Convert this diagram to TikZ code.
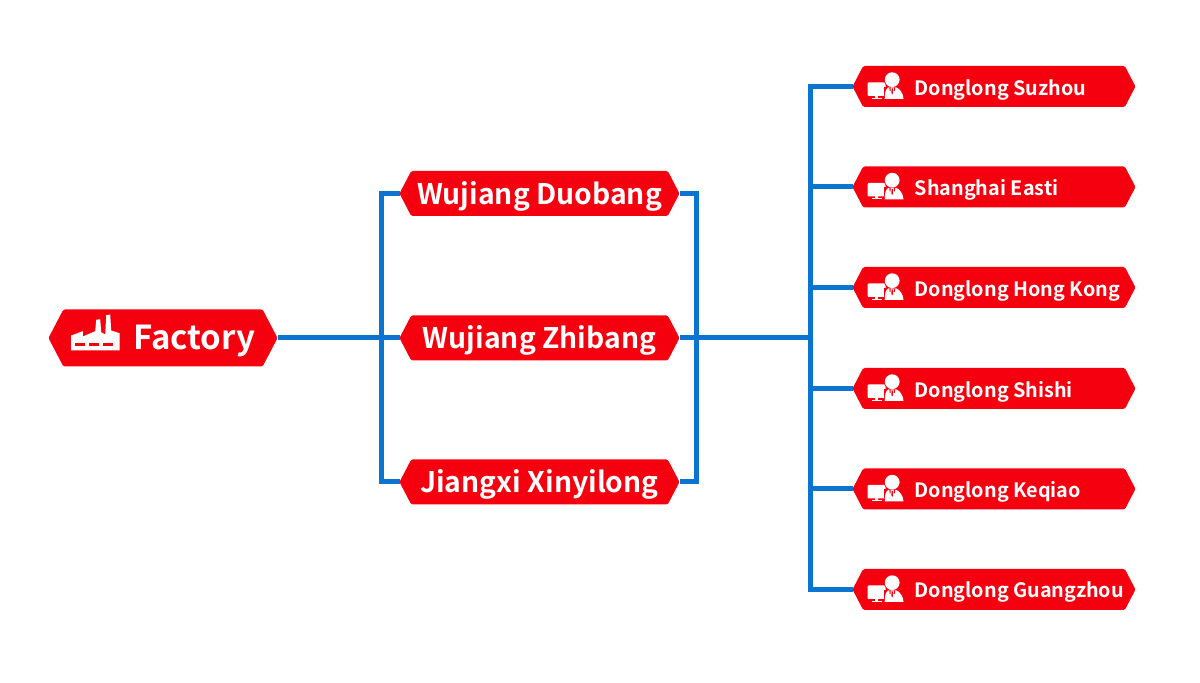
\documentclass[tikz,border=0pt]{standalone}
\usepackage{fontspec}
\setmainfont{Noto Sans CJK SC}[BoldFont={Noto Sans CJK SC Bold}]
\usetikzlibrary{shapes.symbols}
\definecolor{hexred}{HTML}{F5000F}
\definecolor{linkblue}{HTML}{0B74D0}
\tikzset{
  hexbox/.style={signal,signal to=west and east,signal pointer angle=125,fill=hexred,
    inner sep=0pt,outer sep=0pt,rounded corners=1.5pt},
  bigbox/.style={hexbox,minimum width=229pt,minimum height=57pt},
  midbox/.style={hexbox,minimum width=280pt,minimum height=45pt},
  smallbox/.style={hexbox,minimum width=283pt,minimum height=41pt},
  bigtext/.style={text=white,font=\fontsize{33}{33}\bfseries\selectfont,inner sep=0pt,anchor=base west},
  midtext/.style={text=white,font=\fontsize{28.3}{28.3}\bfseries\selectfont,inner sep=0pt,anchor=base},
  smalltext/.style={text=white,font=\fontsize{19.8}{19.8}\bfseries\selectfont,inner sep=0pt,anchor=base west},
  link/.style={line width=5pt,linkblue},
  factoryicon/.pic={
    \fill[white] (22.7,-12.5) -- (22.7,2.5) -- (34.3,6.8) -- (34.3,1.5) -- (46.7,6.8) -- (47.7,18.2)
      -- (51.7,18.8) -- (52.7,5.8) -- (56.7,3.5) -- (57.7,22.8) -- (61.7,23.5) -- (62.7,7.5)
      -- (71,4.8) -- (71,-12.5) -- cycle;
    \fill[hexred] (26,-8.2) rectangle (36,-4.8);
    \fill[hexred] (40.3,-8.2) rectangle (50.3,-4.8);
    \fill[hexred] (54.3,-8.2) rectangle (64.3,-4.8);
  },
  deskicon/.pic={
    % monitor
    \fill[white,rounded corners=1pt] (15,-9.5) rectangle (33,4);
    \fill[white] (22.5,-11.5) rectangle (25.5,-9.5);
    \fill[white] (19,-12.5) rectangle (29,-11.5);
    % person
    \fill[hexred] (31.5,-13) rectangle (51.5,-0.5);
    \fill[hexred] (39.7,6.8) circle (8.2);
    \fill[white] (39.7,6.8) circle (7.4);
    \fill[white] (32.2,-12.5) .. controls (32.2,-7) and (33,-2) .. (36,-0.8) -- (43.5,-0.8)
      .. controls (47.5,-2) and (50.7,-7) .. (51,-12.5) -- cycle;
    % tie
    \fill[hexred] (36.8,-0.8) -- (38,-0.8) -- (38.2,-4.5) -- (37.2,-4.5) -- cycle;
    \fill[hexred] (41.4,-0.8) -- (42.6,-0.8) -- (42.2,-4.5) -- (41.2,-4.5) -- cycle;
    \fill[hexred] (39.1,-2) -- (40.3,-2) -- (40.5,-6.5) -- (39.7,-8) -- (38.9,-6.5) -- cycle;
  }
}
\begin{document}
\begin{tikzpicture}[x=1pt,y=1pt]
    \useasboundingbox (0,0) rectangle (1200,683);
    % Boxes
    \node[bigbox] (factory) at (163,345) {};
    \node[midbox] (duobang) at (539.5,489.5) {};
    \node[midbox] (zhibang) at (539.5,345) {};
    \node[midbox] (xinyilong) at (539.5,201) {};
    \node[smallbox] (suzhou) at (994,596.5) {};
    \node[smallbox] (easti) at (994,496) {};
    \node[smallbox] (hongkong) at (994,395.5) {};
    \node[smallbox] (shishi) at (994,294.5) {};
    \node[smallbox] (keqiao) at (994,194) {};
    \node[smallbox] (guangzhou) at (994,93.5) {};
    % Bus corners
    \coordinate (leftbus) at (381.5,345);
    \coordinate (rightbus) at (696,345);
    \coordinate (mainbus) at (810,345);
    % Links
    \draw[link] (factory.east) -- (zhibang.west);
    \draw[link] (duobang.west) -| (leftbus) |- (xinyilong.west);
    \draw[link] (duobang.east) -| (rightbus) |- (xinyilong.east);
    \draw[link] (zhibang.east) -- (mainbus);
    \draw[link] (suzhou.west) -| (mainbus) |- (guangzhou.west);
    \draw[link] (mainbus |- easti) -- (easti.west);
    \draw[link] (mainbus |- hongkong) -- (hongkong.west);
    \draw[link] (mainbus |- shishi) -- (shishi.west);
    \draw[link] (mainbus |- keqiao) -- (keqiao.west);
    % Icons
    \pic at (factory.west) {factoryicon};
    \pic at (suzhou.west) {deskicon};
    \pic at (easti.west) {deskicon};
    \pic at (hongkong.west) {deskicon};
    \pic at (shishi.west) {deskicon};
    \pic at (keqiao.west) {deskicon};
    \pic at (guangzhou.west) {deskicon};
    % Labels
    \node[bigtext] (factorytext) at ([shift={(84.5,-11.5)}]factory.west) {Factory};
    \node[midtext] (duobangtext) at ([yshift=-10.8pt]duobang.center) {Wujiang Duobang};
    \node[midtext] (zhibangtext) at ([yshift=-10.8pt]zhibang.center) {Wujiang Zhibang};
    \node[midtext] (xinyilongtext) at ([yshift=-10.8pt]xinyilong.center) {Jiangxi Xinyilong};
    \node[smalltext] (suzhoutext) at ([shift={(62,-8.8)}]suzhou.west) {Donglong Suzhou};
    \node[smalltext] (eastitext) at ([shift={(62,-8.3)}]easti.west) {Shanghai Easti};
    \node[smalltext] (hongkongtext) at ([shift={(62,-8.8)}]hongkong.west) {Donglong Hong Kong};
    \node[smalltext] (shishitext) at ([shift={(62,-8.8)}]shishi.west) {Donglong Shishi};
    \node[smalltext] (keqiaotext) at ([shift={(62,-8.8)}]keqiao.west) {Donglong Keqiao};
    \node[smalltext] (guangzhoutext) at ([shift={(62,-8.3)}]guangzhou.west) {Donglong Guangzhou};
\end{tikzpicture}
\end{document}
